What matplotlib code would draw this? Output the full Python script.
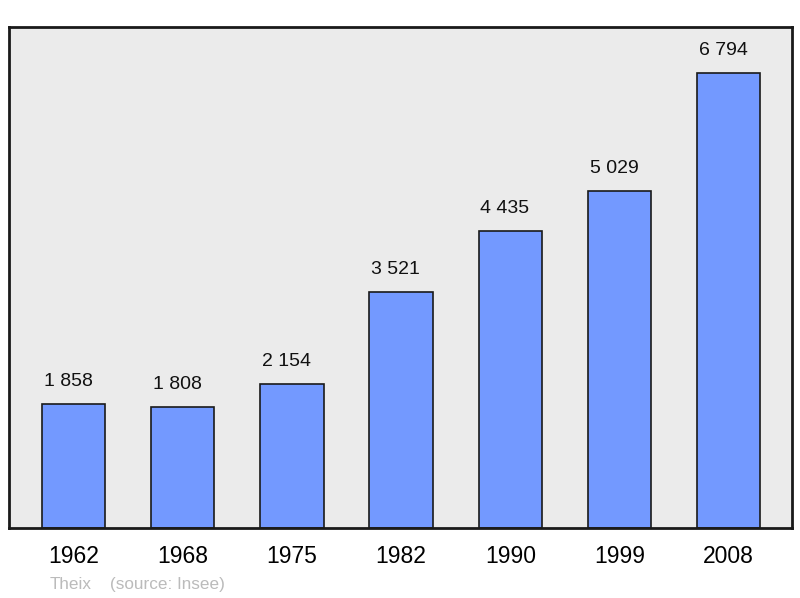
import matplotlib.pyplot as plt

plt.rcParams['font.family'] = ['Liberation Sans', 'DejaVu Sans']

years = ['1962', '1968', '1975', '1982', '1990', '1999', '2008']
population = [1858, 1808, 2154, 3521, 4435, 5029, 6794]
labels = ['1 858', '1 808', '2 154', '3 521', '4 435', '5 029', '6 794']

fig = plt.figure(figsize=(8, 5.98), dpi=100)
ax = fig.add_axes([0.01125, 0.117, 0.97875, 0.838])
ax.set_facecolor('#ebebeb')

x = range(len(years))
ax.bar(x, population, width=0.58, color='#7399ff', edgecolor='#1a1a1a', linewidth=1.2, zorder=2)

for i, (v, lab) in enumerate(zip(population, labels)):
    ax.annotate(lab, (i, v), xytext=(-3.8, 16), textcoords='offset points',
                ha='center', va='center', fontsize=14, color='#111111')

ax.set_xlim(-0.59, 6.58)
ax.set_ylim(0, 7480)
ax.set_yticks([])
ax.set_xticks(list(x))
ax.set_xticklabels(years, fontsize=16.5)
ax.tick_params(axis='x', length=0, pad=12)
for s in ax.spines.values():
    s.set_linewidth(2)
    s.set_color('#1a1a1a')

fig.text(0.062, 0.015, 'Theix', fontsize=12.3, color='#bbbbbb')
fig.text(0.137, 0.015, '(source: Insee)', fontsize=12.3, color='#bbbbbb')

plt.savefig('out.png', dpi=100)
